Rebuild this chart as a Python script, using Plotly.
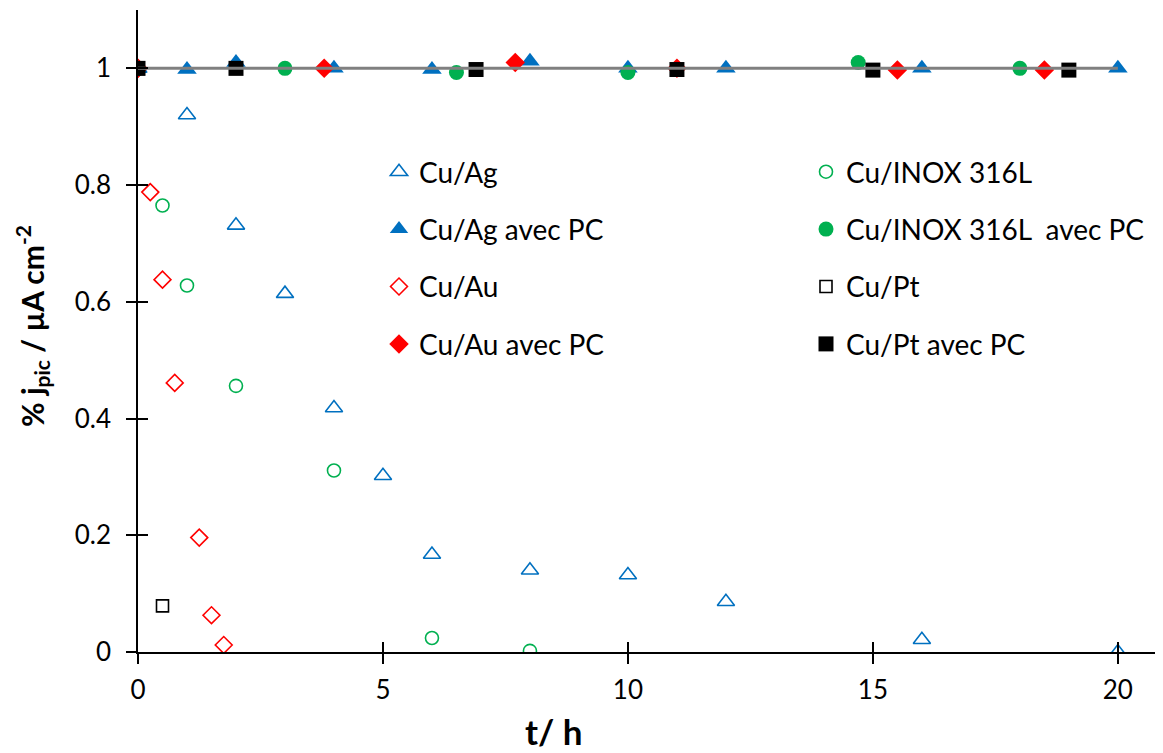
import plotly.graph_objects as go

# ---- data ----
t_ag = [0, 1, 2, 3, 4, 5, 6, 8, 10, 12, 16, 20]
j_ag = [1.0, 0.92, 0.731, 0.614, 0.418, 0.302, 0.167, 0.140, 0.132, 0.086, 0.021, 0.0]

t_ag_pc = [0, 1, 2, 4, 6, 8, 10, 12, 16, 20]
j_ag_pc = [1.0, 0.998, 1.01, 1.0, 0.998, 1.012, 1.0, 1.0, 1.0, 1.0]

t_au = [0, 0.25, 0.5, 0.75, 1.25, 1.5, 1.75]
j_au = [1.0, 0.788, 0.638, 0.461, 0.196, 0.063, 0.012]

t_au_pc = [0, 3.8, 7.7, 11, 15.5, 18.5]
j_au_pc = [1.0, 1.0, 1.01, 1.0, 0.997, 0.997]

t_inox = [0, 0.5, 1, 2, 4, 6, 8]
j_inox = [1.0, 0.765, 0.628, 0.456, 0.311, 0.024, 0.002]

t_inox_pc = [0, 3, 6.5, 10, 14.7, 18]
j_inox_pc = [1.0, 1.0, 0.993, 0.993, 1.01, 1.0]

t_pt = [0, 0.5]
j_pt = [1.0, 0.079]

t_pt_pc = [0, 2, 6.9, 11, 15, 19]
j_pt_pc = [1.0, 1.0, 0.998, 0.998, 0.997, 0.997]

t_ref = [0, 20]
j_ref = [1.0, 1.0]

x_ticks = [0, 5, 10, 15, 20]
y_ticks = [0, 0.2, 0.4, 0.6, 0.8, 1.0]
y_ticktext = ["0", "0.2", "0.4", "0.6", "0.8", "1"]

BLUE = "#0070C0"
GREEN = "#00B050"
RED = "#FF0000"
BLACK = "#000000"
FONT = "Lato"

fig = go.Figure()

def add(x, y, name, symbol, color, size, legend, open_=False):
    if open_:
        marker = dict(symbol=symbol + "-open", color=color, size=size,
                      line=dict(color=color, width=1.6))
    else:
        marker = dict(symbol=symbol, color=color, size=size,
                      line=dict(color=color, width=0))
    fig.add_trace(go.Scatter(x=x, y=y, mode="markers", name=name, marker=marker,
                             legend=legend, legendgroup=name))

add(t_ag, j_ag, "Cu/Ag", "triangle-up", BLUE, 15, "legend", True)
add(t_ag_pc, j_ag_pc, "Cu/Ag avec PC", "triangle-up", BLUE, 17, "legend")
add(t_au, j_au, "Cu/Au", "diamond", RED, 13, "legend", True)
add(t_au_pc, j_au_pc, "Cu/Au avec PC", "diamond", RED, 15, "legend")
add(t_inox, j_inox, "Cu/INOX 316L", "circle", GREEN, 13, "legend2", True)
add(t_inox_pc, j_inox_pc, "Cu/INOX 316L  avec PC", "circle", GREEN, 15, "legend2")
add(t_pt, j_pt, "Cu/Pt", "square", BLACK, 12, "legend2", True)
add(t_pt_pc, j_pt_pc, "Cu/Pt avec PC", "square", BLACK, 15, "legend2")

fig.add_trace(go.Scatter(x=t_ref, y=j_ref, mode="lines", line=dict(color="#808080", width=3),
                         showlegend=False, hoverinfo="skip"))

# dummy trace for overlay axes (inside half of cross ticks)
fig.add_trace(go.Scatter(x=[None], y=[None], xaxis="x2", yaxis="y2", showlegend=False,
                         mode="markers", hoverinfo="skip"))

XR = [0, 20.86]
YR = [0, 1.1]

# page has an 8px body margin: figure origin sits at (8, 8) in the window
OFF = 8
W, H = 1155, 745
pl, pr, pt, pb = 130, 3, 2, 101
pw, ph = W - pl - pr, H - pt - pb

def px(xpage):
    return (xpage - OFF - pl) / pw

def py(ypage):
    return (H - pb - (ypage - OFF)) / ph

legend_common = dict(font=dict(family=FONT, size=28, color="#000"), bgcolor="rgba(0,0,0,0)",
                     tracegroupgap=18, itemsizing="trace", xanchor="left", yanchor="top",
                     orientation="v")

fig.update_layout(
    width=W, height=H,
    margin=dict(l=pl, r=pr, t=pt, b=pb),
    paper_bgcolor="white", plot_bgcolor="white",
    font=dict(family=FONT, size=26, color="#000"),
    xaxis=dict(range=XR, tickvals=x_ticks, ticks="outside", ticklen=10, tickwidth=1.5,
               tickcolor="#000", showline=True, linecolor="#000", linewidth=1.5,
               showgrid=False, zeroline=False, tickfont=dict(family=FONT, size=26),
               ticklabelstandoff=4),
    yaxis=dict(range=YR, tickvals=y_ticks, ticktext=y_ticktext,
               ticks="outside", ticklen=10, tickwidth=1.5, tickcolor="#000",
               showline=True, linecolor="#000", linewidth=1.5, showgrid=False, zeroline=False,
               tickfont=dict(family=FONT, size=26), ticklabelstandoff=10),
    xaxis2=dict(range=XR, tickvals=x_ticks, ticks="inside", ticklen=10, tickwidth=1.5,
                tickcolor="#000", showticklabels=False, showline=False, showgrid=False,
                zeroline=False, overlaying="x", anchor="y", side="bottom"),
    yaxis2=dict(range=YR, tickvals=y_ticks, ticks="inside", ticklen=10, tickwidth=1.5,
                tickcolor="#000", showticklabels=False, showline=False, showgrid=False,
                zeroline=False, overlaying="y", anchor="x", side="left"),
    legend=dict(x=px(379), y=py(147), **legend_common),
    legend2=dict(x=px(806), y=py(147), **legend_common),
    annotations=[
        dict(text="<b>t/ h</b>", x=px(554), y=py(731), xref="paper", yref="paper",
             xanchor="center", yanchor="middle", showarrow=False,
             font=dict(family=FONT, size=35)),
        dict(text="<b>% j<sub>pic</sub> / µA cm<sup>-2</sup></b>", x=px(32), y=py(326),
             xref="paper", yref="paper", xanchor="center", yanchor="middle",
             showarrow=False, textangle=-90, font=dict(family=FONT, size=30)),
    ],
)

fig.write_html("out.html")
